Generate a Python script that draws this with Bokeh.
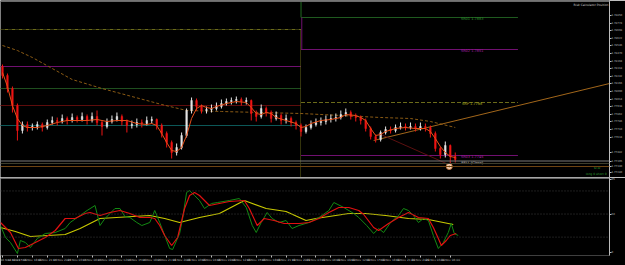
from bokeh.plotting import figure
from bokeh.layouts import column
from bokeh.models import (Range1d, FixedTicker, PrintfTickFormatter, Span,
                          ColumnDataSource)
from bokeh.core.properties import value
from bokeh.embed import file_html
from bokeh.resources import INLINE

# ---------------- data ----------------
first_open = 1.7834
close = [1.7825, 1.7812, 1.7795, 1.7770, 1.7776, 1.7773, 1.7774, 1.7776, 1.7773, 1.7778,
         1.7780, 1.7779, 1.7782, 1.7780, 1.7783, 1.7781, 1.7784, 1.7780, 1.7784, 1.7778,
         1.7774, 1.7779, 1.7781, 1.7784, 1.7779, 1.7775, 1.7776, 1.7778, 1.7777, 1.7780,
         1.7781, 1.7775, 1.7767, 1.7758, 1.7748, 1.7753, 1.7765, 1.7790, 1.7800, 1.7794,
         1.7790, 1.7791, 1.7792, 1.7794, 1.7797, 1.7799, 1.7800, 1.7801, 1.7799, 1.7800,
         1.7787, 1.7784, 1.7792, 1.7788, 1.7782, 1.7785, 1.7780, 1.7782, 1.7778, 1.7775,
         1.7769, 1.7773, 1.7776, 1.7778, 1.7779, 1.7781, 1.7782, 1.7783, 1.7786, 1.7788,
         1.7784, 1.7783, 1.7780, 1.7772, 1.7764, 1.7761, 1.7768, 1.7771, 1.7770, 1.7773,
         1.7774, 1.7773, 1.7774, 1.7772, 1.7774, 1.7773, 1.7767, 1.7752, 1.7746, 1.7755,
         1.7744, 1.7741]
high = [1.7836, 1.7827, 1.7814, 1.7797, 1.7779, 1.7779, 1.7777, 1.7779, 1.7778, 1.7781,
        1.7784, 1.7783, 1.7786, 1.7784, 1.7787, 1.7785, 1.7788, 1.7786, 1.7788, 1.7790,
        1.7780, 1.7782, 1.7785, 1.7788, 1.7786, 1.7781, 1.7780, 1.7782, 1.7781, 1.7784,
        1.7784, 1.7782, 1.7777, 1.7769, 1.7760, 1.7757, 1.7768, 1.7792, 1.7803, 1.7802,
        1.7796, 1.7794, 1.7796, 1.7798, 1.7801, 1.7802, 1.7803, 1.7804, 1.7803, 1.7803,
        1.7801, 1.7790, 1.7796, 1.7794, 1.7790, 1.7789, 1.7787, 1.7786, 1.7784, 1.7780,
        1.7777, 1.7776, 1.7780, 1.7782, 1.7783, 1.7785, 1.7786, 1.7787, 1.7790, 1.7792,
        1.7790, 1.7787, 1.7785, 1.7782, 1.7774, 1.7766, 1.7770, 1.7774, 1.7774, 1.7776,
        1.7778, 1.7777, 1.7778, 1.7777, 1.7778, 1.7777, 1.7775, 1.7769, 1.7754, 1.7759,
        1.7756, 1.7748]
low = [1.7822, 1.7808, 1.7788, 1.7760, 1.7767, 1.7769, 1.7770, 1.7771, 1.7769, 1.7771,
       1.7776, 1.7775, 1.7777, 1.7776, 1.7778, 1.7778, 1.7779, 1.7776, 1.7778, 1.7775,
       1.7765, 1.7772, 1.7777, 1.7779, 1.7775, 1.7768, 1.7772, 1.7773, 1.7773, 1.7775,
       1.7777, 1.7771, 1.7763, 1.7753, 1.7742, 1.7745, 1.7751, 1.7763, 1.7787, 1.7790,
       1.7787, 1.7787, 1.7788, 1.7790, 1.7792, 1.7795, 1.7796, 1.7797, 1.7795, 1.7796,
       1.7780, 1.7779, 1.7782, 1.7784, 1.7778, 1.7780, 1.7776, 1.7777, 1.7774, 1.7771,
       1.7764, 1.7767, 1.7771, 1.7774, 1.7775, 1.7776, 1.7778, 1.7779, 1.7781, 1.7784,
       1.7781, 1.7779, 1.7776, 1.7769, 1.7761, 1.7758, 1.7759, 1.7766, 1.7767, 1.7768,
       1.7771, 1.7770, 1.7771, 1.7769, 1.7770, 1.7769, 1.7763, 1.7749, 1.7742, 1.7743,
       1.7737, 1.7738]
bars = list(range(len(close)))

ma_x = [0, 1, 2, 3, 4, 5, 7, 9, 11, 13, 15, 17, 19, 21, 23, 25, 27, 29, 30, 31, 32, 33, 34,
        35, 36, 37, 38, 39, 40, 41, 42, 43, 45, 47, 49, 50, 51, 52, 53, 54, 55, 57, 59, 60,
        61, 62, 64, 66, 68, 69, 71, 72, 73, 74, 75, 76, 77, 79, 81, 83, 85, 86, 87, 88, 89,
        90, 91]
ma_y = [1.7828, 1.7814, 1.7795, 1.7782, 1.7775, 1.7773, 1.7773, 1.7775, 1.7778, 1.7780,
        1.7780, 1.7780, 1.7781, 1.7779, 1.7780, 1.7780, 1.7777, 1.7776, 1.7777, 1.7775,
        1.7767, 1.7758, 1.7750, 1.7749, 1.7753, 1.7765, 1.7782, 1.7792, 1.7795, 1.7793,
        1.7792, 1.7794, 1.7797, 1.7799, 1.7798, 1.7793, 1.7787, 1.7786, 1.7788, 1.7787,
        1.7783, 1.7780, 1.7777, 1.7773, 1.7774, 1.7777, 1.7780, 1.7781, 1.7783, 1.7786,
        1.7785, 1.7783, 1.7780, 1.7772, 1.7765, 1.7766, 1.7769, 1.7772, 1.7773, 1.7772,
        1.7772, 1.7769, 1.7762, 1.7754, 1.7748, 1.7744, 1.7743]

slow_ma_x = [0, 3, 6, 10, 14, 20, 26, 32, 37, 44, 52, 60, 68, 76, 82, 86, 91]
slow_ma_y = [1.7855, 1.7850, 1.7843, 1.7832, 1.7821, 1.7812, 1.7804, 1.7796, 1.7790,
             1.7789, 1.7788, 1.7787, 1.7785, 1.7783, 1.7782, 1.7779, 1.7773]

trend_x = [74.6, 122.0]
trend_y = [1.7760, 1.7817]
diag_x = [75.6, 89.2]
diag_y = [1.7767, 1.7737]

# daily levels: previous day (bars up to separator) and current day
separator_bar = 60
prev_levels = [1.7871, 1.7834, 1.7812, 1.7795, 1.7775]
curr_levels = [1.7883, 1.7851, 1.7798, 1.7745]
curr_level_names = ["SR01 1.7883", "SR02 1.7851", "SRP 1.7798", "SR03 1.7745"]
curr_level_end = 103.6
bid, mid_line, ask = 1.77395, 1.7737, 1.7734
marker_bar, marker_price = 89.8, 1.7734

price_ticks = [1.78850, 1.78774, 1.78698, 1.78622, 1.78546, 1.78470, 1.78394, 1.78318,
               1.78242, 1.78166, 1.78090, 1.78014, 1.77938, 1.77862, 1.77786, 1.77710,
               1.77634, 1.77482, 1.77395, 1.77340, 1.77280]

# oscillator
green_x = [-0.4, 0.6, 1.6, 3, 3.6, 4.6, 5.6, 7, 8.6, 10.6, 12.6, 13.6, 15.6, 17, 18.6, 19.6,
           20.6, 22.6, 23.6, 24.6, 25.6, 27, 28, 29.6, 30.6, 31.6, 32.6, 33.6, 34.2, 35.6,
           36.2, 37, 37.6, 38.6, 39.6, 40.6, 42, 43.2, 45.6, 47.6, 49, 50.2, 51, 52, 53.2,
           54.2, 55.6, 57, 58.2, 59.6, 61.6, 63.6, 65.6, 66.6, 68.6, 70.6, 71.6, 73.2, 74.6,
           75.6, 76.6, 78, 79.6, 80.6, 81.6, 82.6, 83.6, 84.6, 85.6, 86.6, 87.6, 88.6, 89.6,
           90.2, 90.8, 91.6]
green_v = [35.1, 19.5, 13, -1.3, 15.6, 13, 6.5, 18.2, 24.7, 26, 31.2, 39, 48.1, 54.6, 61.1,
           35.1, 44.2, 57.2, 57.2, 46.8, 45.5, 39, 35.1, 39, 54.6, 39, 22.1, 5.2, 3.9, 24.7,
           44.2, 78, 80.6, 74.1, 67.6, 57.2, 63.7, 65, 67.6, 70.2, 58.5, 35.1, 26, 39, 52,
           44.2, 39, 41.6, 31.2, 35.1, 39, 45.5, 54.6, 65, 58.5, 50.7, 45.5, 35.1, 24.7, 31.2,
           26, 39, 48.1, 57.2, 54.6, 48.1, 39, 44.2, 41.6, 22.1, 5.2, 13, 26, 37.7, 24.7, 22.1]
red_x = [-0.4, 1.6, 3.2, 4.6, 6.6, 8.6, 10.6, 12.6, 14.6, 16.6, 17.6, 19.6, 21.6, 23.6, 25.6,
         27.6, 29.6, 30.6, 31.6, 32.6, 34, 35.2, 36.6, 37.6, 38.6, 39.6, 41.6, 43.6, 45.6,
         48.6, 49.6, 51.2, 52.6, 54.6, 56.6, 59.6, 61.6, 63.6, 65.6, 67.6, 69.6, 71.6, 72.6,
         74.6, 75.6, 77.6, 79.6, 81.6, 83.6, 85.6, 86.6, 87.6, 88.2, 89.2, 90, 91.2]
red_v = [39, 26, 5.2, 6.5, 13, 19.5, 28.6, 44.2, 44.2, 50.7, 52, 48.1, 52, 54.6, 50.7, 45.5,
         45.5, 44.2, 35.1, 22.1, 9.1, 19.5, 57.2, 74.1, 78, 74.1, 61.1, 63.7, 66.3, 67.6, 57.2,
         35.1, 44.2, 41.6, 37.7, 37.7, 39, 44.2, 52, 58.5, 58.5, 54.6, 49.4, 32.5, 28.6, 37.7,
         45.5, 52, 45.5, 44.2, 32.5, 18.2, 9.1, 15.6, 22.1, 24.7]
yellow_x = [-0.4, 2.6, 5.6, 12.6, 15.6, 19.6, 26.2, 29.6, 32.6, 35.6, 39.6, 43.6, 48.6, 53,
            57, 61, 63, 69.6, 73, 77, 81.6, 85.6, 87.6, 90.6]
yellow_v = [32.5, 27.3, 20.8, 23.4, 31.2, 44.2, 46.8, 48.1, 44.2, 39, 45.5, 50.7, 67.6, 57.2,
            53.3, 41.6, 44.2, 50.7, 50.7, 48.1, 44.2, 42.9, 40.3, 36.4]
osc_levels = [80, 50, 20]
osc_ticks = [95, 50, 0]

time_ticks = list(range(0, 91, 3))
time_labels = ["16 Nov 12:00", "16 Nov 15:00", "16 Nov 18:00", "16 Nov 21:00", "17 Nov 2020",
               "17 Nov 03:00", "17 Nov 06:00", "17 Nov 09:00", "17 Nov 12:00", "17 Nov 15:00",
               "17 Nov 18:00", "17 Nov 21:00", "18 Nov 2020", "18 Nov 03:00", "18 Nov 06:00",
               "18 Nov 09:00", "18 Nov 12:00", "18 Nov 15:00", "18 Nov 18:00", "18 Nov 21:00",
               "19 Nov 2020", "19 Nov 03:00", "19 Nov 06:00", "19 Nov 09:00", "19 Nov 12:00",
               "19 Nov 15:00", "19 Nov 18:00", "19 Nov 21:00", "20 Nov 2020", "20 Nov 03:00",
               "20 Nov 06:00"]

# ---------------- styling helpers ----------------
AX = "#bcbcbc"
FONT = "DejaVu Sans"
RB = 13
xr = Range1d(-0.4, 122.0)


def style_axis(ax, size="2.6px"):
    ax.axis_line_color = AX
    ax.major_tick_line_color = AX
    ax.minor_tick_line_color = None
    ax.major_tick_out = 2
    ax.major_tick_in = 0
    ax.major_label_standoff = 0
    ax.major_label_text_color = AX
    ax.major_label_text_font_size = size
    ax.major_label_text_font = FONT


# ---------------- main price panel ----------------
p = figure(width=625, height=177, x_range=xr, y_range=Range1d(1.7723, 1.7900),
           output_backend="svg", toolbar_location=None, y_axis_location="right",
           background_fill_color="black", border_fill_color="black",
           min_border_left=0, min_border_right=RB, min_border_top=0, min_border_bottom=0)
p.xaxis.visible = False
p.grid.visible = False
p.outline_line_color = None
style_axis(p.yaxis[0])
p.yaxis.ticker = FixedTicker(ticks=price_ticks)
p.yaxis.formatter = PrintfTickFormatter(format="%.5f")

p.add_layout(Span(location=1.7900, dimension="width", line_color="#6a6a6a", line_width=3))

# previous-day levels
prev_colors = ["#6b6b1a", "#701070", "#1f4f1f", "#5e0c0c", "#0c5858"]
prev_dash = ["4 1 1 1", "solid", "solid", "solid", "solid"]
for lv, c, d in zip(prev_levels, prev_colors, prev_dash):
    p.line([-1, separator_bar], [lv, lv], line_color=c, line_width=1, line_dash=d)
# current-day levels
curr_colors = ["#1f5a1f", "#701070", "#6b6b1a", "#701070"]
curr_dash = ["solid", "solid", "4 2", "solid"]
txt_colors = ["#2f9a2f", "#b020b0", "#b8b820", "#b020b0"]
for lv, c, d in zip(curr_levels, curr_colors, curr_dash):
    p.line([separator_bar, curr_level_end], [lv, lv], line_color=c, line_width=1, line_dash=d)
p.text(x=[94.4] * 4, y=[lv - 0.00015 for lv in curr_levels], text=curr_level_names,
       text_color=txt_colors, text_font_size="3.5px", text_font=value(FONT),
       text_align="center", text_baseline="middle")
p.text(x=[94.4], y=[1.7738], text=["SELL (Close)"], text_color="#e0e0e0",
       text_font_size="3.5px", text_font=value(FONT), text_align="center",
       text_baseline="middle")

# separator verticals
p.line([separator_bar - 0.1] * 2, [prev_levels[0], 1.7723], line_color="#6b6b1a",
       line_dash="1 1")
p.line([separator_bar] * 2, [1.7900, curr_levels[0]], line_color="#1f6a1f")
p.line([separator_bar + 0.15] * 2, [curr_levels[0], curr_levels[1]], line_color="#701070")

# full width price lines
p.add_layout(Span(location=bid, dimension="width", line_color="#7a7a7a", line_width=1))
p.add_layout(Span(location=mid_line, dimension="width", line_color="#3e3e2c", line_width=1))
p.add_layout(Span(location=ask, dimension="width", line_color="#6e4412", line_width=1))

# slow dashed MA and trend lines
p.line(slow_ma_x, slow_ma_y, line_color="#8a5a14", line_width=1, line_dash="3 2")
p.line(trend_x, trend_y, line_color="#a2661a", line_width=1)
p.line(diag_x, diag_y, line_color="#5c1010", line_width=1)

# candles
opens = [first_open] + close[:-1]
colors = ["#e4e4e4" if c > o else "#ee1414" for o, c in zip(opens, close)]
src = ColumnDataSource(dict(x=bars, h=high, l=low,
                            top=[max(o, c) for o, c in zip(opens, close)],
                            bot=[min(o, c) for o, c in zip(opens, close)],
                            color=colors))
p.segment(x0="x", y0="h", x1="x", y1="l", line_color="color", line_width=1, source=src)
p.vbar(x="x", width=0.32, top="top", bottom="bot", fill_color="color",
       line_color="color", line_width=0.5, source=src)

# fast MA
p.line(ma_x, ma_y, line_color="#e8501a", line_width=1)

# marker
p.scatter([marker_bar], [marker_price], size=6, fill_color="#ecd2bc",
          line_color="#c87a40", line_width=1)
p.scatter([marker_bar], [marker_price], size=2, fill_color="#c06020", line_color=None)

# small texts
p.text(x=[121.8], y=[1.7898], text=["Risk Calculator Position"], text_color="#c8c8c8",
       text_font_size="3px", text_font=value(FONT), text_align="right", text_baseline="top")
p.text(x=[119.5], y=[1.7733], text=["0.0"], text_color="#2fa02f", text_font_size="4px",
       text_font=value(FONT), text_align="center", text_baseline="middle")
p.text(x=[121.8], y=[1.7727], text=["long 0   short 0"], text_color="#2fa02f",
       text_font_size="3px", text_font=value(FONT), text_align="right",
       text_baseline="middle")

# ---------------- oscillator panel ----------------
q = figure(width=625, height=88, x_range=xr, y_range=Range1d(-3.9, 97.5),
           output_backend="svg", toolbar_location=None, y_axis_location="right",
           background_fill_color="black", border_fill_color="black",
           min_border_left=0, min_border_right=RB, min_border_top=0, min_border_bottom=10)
q.grid.visible = False
q.outline_line_color = None
style_axis(q.yaxis[0])
q.yaxis.ticker = FixedTicker(ticks=osc_ticks)
style_axis(q.xaxis[0], "2.9px")
q.xaxis.axis_line_color = None
q.xaxis.ticker = FixedTicker(ticks=time_ticks)
q.xaxis.major_label_overrides = {t: s for t, s in zip(time_ticks, time_labels)}

q.add_layout(Span(location=97.5, dimension="width", line_color="#d0d0d0", line_width=2))
for lv in osc_levels:
    q.add_layout(Span(location=lv, dimension="width", line_color="#3c3c3c",
                      line_width=1, line_dash="1 2"))
q.line(yellow_x, yellow_v, line_color="#c8c800", line_width=1.2)
q.line(green_x, green_v, line_color="#138a13", line_width=1)
q.line(red_x, red_v, line_color="#e01010", line_width=1.2)

layout = column(p, q, spacing=0)
open("out.html", "w").write(file_html(layout, INLINE))
